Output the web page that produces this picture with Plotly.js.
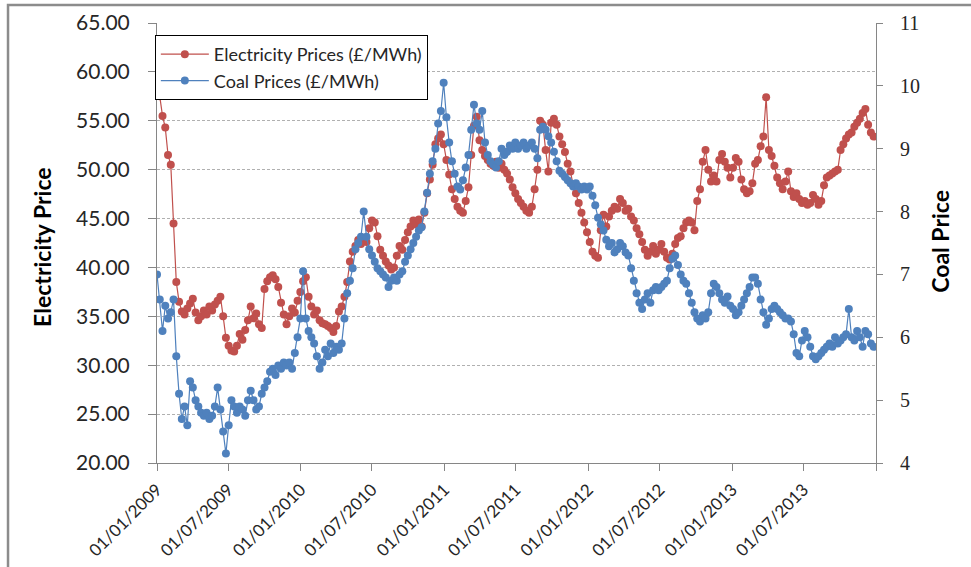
<!DOCTYPE html>
<html>
<head>
<meta charset="utf-8">
<script src="https://cdn.plot.ly/plotly-3.0.1.min.js"></script>
<style>
  html, body { margin: 0; padding: 0; background: #fff; }
  #chart { width: 971px; height: 567px; }
</style>
</head>
<body>
<div id="chart"></div>
<script>
// Weekly readings, first week starting 01/01/2009
const firstWeek = "2009-01-01";

// Electricity prices (£/MWh), left axis
const electricityPrices = [
    // 2009
    59.5, 57.5, 55.5, 54.3, 51.5, 50.5, 44.5, 38.5, 36.5, 35.5, 35.2, 35.8, 36.3,
    36.8, 35.4, 34.6, 35.0, 35.6, 35.2, 36.0, 35.6, 36.2, 36.6, 37.0, 35.0, 32.8,
    32.0, 31.5, 31.4, 32.0, 33.2, 32.6, 33.6, 34.6, 36.0, 34.8, 35.3, 34.2, 33.8,
    37.8, 38.6, 39.0, 39.2, 38.8, 38.0, 36.4, 35.2, 34.2, 35.0, 35.8, 35.4, 36.6,
    // 2010
    37.5, 38.6, 39.0, 37.0, 36.0, 35.2, 35.6, 34.6, 34.3, 34.2, 34.0, 33.8, 33.4,
    34.0, 35.5, 36.0, 37.0, 38.5, 40.6, 41.6, 42.2, 42.8, 42.4, 43.0, 42.6, 44.0,
    44.8, 44.6, 43.2, 41.8, 41.2, 40.6, 40.2, 39.8, 40.0, 41.2, 42.2, 41.8, 42.8,
    43.6, 44.2, 44.8, 44.4, 44.9, 44.2, 45.6, 47.6, 49.0, 50.5, 52.6, 53.2, 53.6,
    // 2011
    52.6, 51.0, 49.5, 48.0, 47.0, 46.2, 45.8, 45.6, 46.8, 48.2, 51.5, 54.5, 55.4,
    53.0, 52.0, 51.4, 51.0, 50.6, 50.4, 50.8, 50.2, 50.6, 50.0, 49.6, 49.0, 48.2,
    47.6, 47.0, 46.6, 46.2, 45.8, 45.6, 46.2, 48.0, 50.0, 55.0, 54.6, 52.0, 49.8,
    54.8, 55.2, 54.6, 53.4, 52.6, 51.8, 50.6, 49.8, 48.4, 47.6, 46.6, 45.6, 44.6,
    // 2012
    43.6, 42.6, 41.6, 41.2, 41.0, 43.8, 45.4, 44.2, 45.2, 45.8, 46.2, 46.0, 47.0,
    46.6, 45.8, 46.0, 45.2, 44.8, 44.0, 43.4, 42.6, 41.8, 41.2, 41.6, 42.2, 41.4,
    41.8, 42.4, 41.6, 41.0, 40.8, 41.4, 42.4, 43.0, 43.2, 44.0, 44.6, 44.8, 44.6,
    43.8, 46.8, 48.0, 50.8, 52.0, 50.0, 48.8, 49.4, 48.8, 51.0, 51.6, 50.8, 50.2,
    // 2013
    49.2, 50.2, 51.2, 50.8, 49.0, 48.0, 47.6, 47.8, 48.6, 50.6, 51.0, 52.4, 53.4,
    57.4, 52.0, 51.4, 50.4, 49.2, 48.6, 48.0, 48.8, 49.8, 47.8, 47.2, 47.6, 47.0,
    46.6, 46.8, 46.4, 46.6, 47.4, 47.0, 46.4, 46.8, 48.4, 49.2, 49.4, 49.6, 49.8,
    50.0, 52.0, 52.6, 53.2, 53.6, 53.8, 54.4, 54.8, 55.2, 55.8, 56.2, 54.6, 53.8, 53.4
];

// Coal prices (£/MWh), right axis
const coalPrices = [
    // 2009
    7.0, 6.6, 6.1, 6.5, 6.3, 6.4, 6.6, 5.7, 5.1, 4.7, 4.9, 4.6, 5.3,
    5.2, 5.0, 4.9, 4.8, 4.75, 4.8, 4.7, 4.75, 4.9, 5.2, 4.85, 4.5, 4.15,
    4.6, 5.0, 4.9, 4.8, 4.9, 4.85, 4.75, 5.0, 5.15, 5.0, 4.85, 4.9, 5.1,
    5.2, 5.3, 5.45, 5.5, 5.4, 5.55, 5.5, 5.6, 5.55, 5.6, 5.5, 5.75, 6.0,
    // 2010
    6.3, 7.05, 6.3, 6.1, 6.0, 5.9, 5.7, 5.5, 5.6, 5.8, 5.7, 5.9, 5.75,
    5.85, 5.8, 5.9, 6.3, 6.7, 6.9, 7.1, 7.4, 7.5, 7.6, 8.0, 7.6, 7.4,
    7.3, 7.2, 7.1, 7.05, 7.0, 6.95, 6.8, 6.9, 6.95, 6.9, 7.0, 7.05, 7.2,
    7.3, 7.4, 7.5, 7.6, 7.7, 7.75, 8.0, 8.3, 8.6, 8.8, 9.0, 9.4, 9.6,
    // 2011
    10.05, 9.5, 9.1, 8.8, 8.6, 8.4, 8.35, 8.5, 8.7, 8.9, 9.3, 9.7, 9.4,
    9.3, 9.6, 9.1, 8.9, 8.8, 8.75, 8.7, 8.8, 9.0, 8.9, 8.95, 9.05, 9.0,
    9.1, 9.0, 9.05, 9.1, 9.0, 9.05, 9.1, 9.0, 8.85, 9.3, 9.35, 9.3, 9.2,
    9.1, 8.95, 8.8, 8.65, 8.6, 8.55, 8.5, 8.45, 8.4, 8.45, 8.4, 8.35, 8.4,
    // 2012
    8.35, 8.4, 8.25, 8.1, 7.9, 7.8, 7.7, 7.55, 7.45, 7.5, 7.35, 7.4, 7.5,
    7.45, 7.35, 7.3, 7.1, 6.9, 6.7, 6.55, 6.45, 6.6, 6.7, 6.55, 6.75, 6.8,
    6.75, 6.8, 6.85, 6.9, 7.1, 7.25, 7.3, 7.15, 7.0, 6.9, 6.85, 6.7, 6.55,
    6.4, 6.3, 6.25, 6.35, 6.3, 6.4, 6.7, 6.85, 6.8, 6.7, 6.6, 6.55, 6.65,
    // 2013
    6.5, 6.45, 6.35, 6.4, 6.5, 6.6, 6.7, 6.8, 6.95, 6.95, 6.85, 6.6, 6.4,
    6.2, 6.3, 6.45, 6.5, 6.45, 6.4, 6.35, 6.3, 6.3, 6.25, 6.05, 5.75, 5.7,
    5.95, 6.1, 6.0, 5.85, 5.7, 5.65, 5.7, 5.75, 5.8, 5.85, 5.9, 5.85, 6.0,
    5.9, 5.95, 6.0, 6.05, 6.45, 6.0, 5.95, 6.1, 6.0, 5.85, 6.1, 6.05, 5.9, 5.85
];

// x axis ticks every six months, last one unlabelled
const tickDates = ["2009-01-01", "2009-07-01", "2010-01-01", "2010-07-01", "2011-01-01",
    "2011-07-01", "2012-01-01", "2012-07-01", "2013-01-01", "2013-07-01", "2014-01-01"];
const tickLabels = ["01/01/2009", "01/07/2009", "01/01/2010", "01/07/2010", "01/01/2011",
    "01/07/2011", "01/01/2012", "01/07/2012", "01/01/2013", "01/07/2013", ""];

// one date per weekly reading
const weekDates = electricityPrices.map((v, i) => {
    const d = new Date(firstWeek + "T00:00:00Z");
    d.setUTCDate(d.getUTCDate() + i * 7);
    return d.toISOString().slice(0, 10);
});

const red = "#C0504D";
const blue = "#4F81BD";
const axisGrey = "#868686";
const textFont = "Lato, 'Open Sans', sans-serif";

const traces = [
    {
        x: weekDates,
        y: electricityPrices,
        name: "Electricity Prices (£/MWh)",
        type: "scatter",
        mode: "lines+markers",
        line: { color: red, width: 1.2 },
        marker: { color: red, size: 8 },
        yaxis: "y",
    },
    {
        x: weekDates,
        y: coalPrices,
        name: "Coal Prices (£/MWh)",
        type: "scatter",
        mode: "lines+markers",
        line: { color: blue, width: 1.2 },
        marker: { color: blue, size: 8 },
        yaxis: "y2",
    },
];

// plot area in pixels: x 157..876, y 23..463
const layout = {
    width: 971,
    height: 567,
    autosize: false,
    margin: { l: 157, r: 95, t: 23, b: 104 },
    paper_bgcolor: "#ffffff",
    plot_bgcolor: "#ffffff",
    showlegend: true,
    legend: {
        x: -0.003,
        y: 0.9727,
        xanchor: "left",
        yanchor: "top",
        bgcolor: "#ffffff",
        bordercolor: "#000000",
        borderwidth: 1,
        itemwidth: 48,
        font: { family: textFont, size: 18, color: "#262626" },
    },
    xaxis: {
        type: "date",
        range: ["2009-01-01", "2014-01-01"],
        tickmode: "array",
        tickvals: tickDates,
        ticktext: tickLabels,
        tickangle: -45,
        ticks: "outside",
        ticklen: 7,
        tickcolor: axisGrey,
        showline: true,
        linecolor: axisGrey,
        linewidth: 1,
        showgrid: false,
        zeroline: false,
        ticklabelstandoff: 2,
        tickfont: { family: textFont, size: 17, color: "#262626" },
    },
    yaxis: {
        range: [20, 65],
        tick0: 20,
        dtick: 5,
        tickformat: ".2f",
        ticks: "outside",
        ticklen: 8,
        tickcolor: axisGrey,
        showline: true,
        linecolor: axisGrey,
        linewidth: 1,
        showgrid: true,
        gridcolor: "#b0b0b0",
        griddash: "3px,2px",
        gridwidth: 1,
        zeroline: false,
        ticklabelstandoff: 14,
        tickfont: { family: textFont, size: 21, color: "#262626" },
    },
    yaxis2: {
        overlaying: "y",
        side: "right",
        range: [4, 11],
        tick0: 4,
        dtick: 1,
        ticks: "outside",
        ticklen: 6,
        tickcolor: axisGrey,
        showline: true,
        linecolor: axisGrey,
        linewidth: 1,
        showgrid: false,
        zeroline: false,
        ticklabelstandoff: 13,
        tickfont: { family: "'Liberation Serif', 'DejaVu Serif', serif", size: 20, color: "#262626" },
    },
    annotations: [
        {
            text: "<b>Electricity Price</b>",
            xref: "paper", yref: "paper",
            x: -0.16, y: 0.491,
            xanchor: "center", yanchor: "middle",
            textangle: -90,
            showarrow: false,
            font: { family: textFont, size: 23, color: "#000000" },
        },
        {
            text: "<b>Coal Price</b>",
            xref: "paper", yref: "paper",
            x: 1.089, y: 0.505,
            xanchor: "center", yanchor: "middle",
            textangle: -90,
            showarrow: false,
            font: { family: textFont, size: 23, color: "#000000" },
        },
    ],
    shapes: [
        // chart area border, cut off at the right and bottom
        {
            type: "rect",
            xref: "paper", yref: "paper",
            x0: -0.2072, x1: 1.16,
            y0: -0.27, y1: 1.0409,
            line: { color: "#8c8c8c", width: 2.5 },
            fillcolor: "rgba(0,0,0,0)",
            layer: "below",
        },
    ],
};

Plotly.newPlot("chart", traces, layout, { displayModeBar: false, staticPlot: true });
</script>
</body>
</html>
